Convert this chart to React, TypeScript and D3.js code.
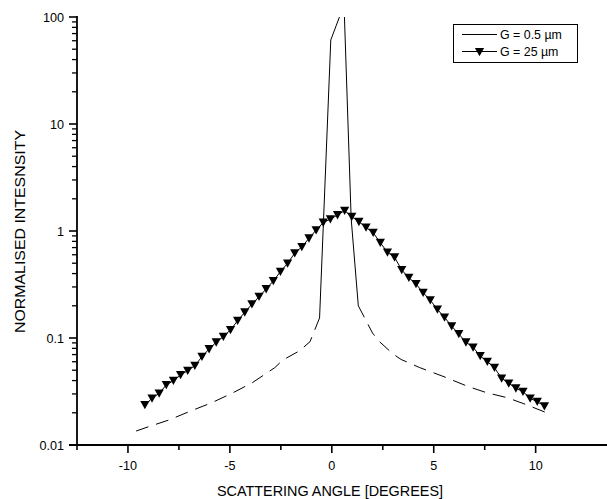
import React from "react";
import * as d3 from "d3";

const W = 607;
const H = 499;

// G = 0.5 µm series (angle in degrees, normalised intensity)
const fineX = [-9.6, -9.0, -8.0, -7.0, -5.9, -4.9, -3.9, -2.8, -2.4, -1.6, -1.07, -0.6, -0.05, 0.6, 0.95, 1.3, 2.0, 2.35, 3.0, 3.4, 4.3, 5.5, 6.7, 7.6, 8.6, 9.5, 10.6];
const fineY = [0.0135, 0.0148, 0.0171, 0.0205, 0.0248, 0.0304, 0.0382, 0.0528, 0.0623, 0.0756, 0.0923, 0.154, 61, 130, 1.3, 0.2, 0.111, 0.092, 0.071, 0.063, 0.053, 0.0435, 0.0351, 0.0308, 0.0277, 0.024, 0.0198];
// central (steep) part drawn as continuous stroke
const fineSolidFrom = -0.6;
const fineSolidTo = 1.3;

// G = 25 µm series
const coarseX = [
  -9.17, -8.82, -8.47, -8.12, -7.77, -7.42, -7.07, -6.72, -6.37, -6.02, -5.67, -5.32, -4.97, -4.62, -4.27,
  -3.92, -3.57, -3.22, -2.87, -2.52, -2.17, -1.82, -1.47, -1.12, -0.77, -0.42, -0.07, 0.28, 0.63,
  0.98, 1.33, 1.68, 2.03, 2.38, 2.73, 3.08, 3.43, 3.78, 4.13, 4.48, 4.83, 5.18, 5.53, 5.88, 6.23,
  6.58, 6.93, 7.28, 7.63, 7.98, 8.33, 8.68, 9.03, 9.38, 9.73, 10.08, 10.43,
];
const coarseY = [
  0.0237, 0.0273, 0.0304, 0.0364, 0.0399, 0.0451, 0.0495, 0.0551, 0.0669, 0.0789, 0.0912, 0.103, 0.119, 0.145, 0.174,
  0.207, 0.243, 0.287, 0.341, 0.417, 0.499, 0.62, 0.71, 0.855, 1.02, 1.2, 1.29, 1.41, 1.55,
  1.36, 1.22, 1.08, 0.964, 0.778, 0.632, 0.568, 0.432, 0.366, 0.32, 0.265, 0.226, 0.185, 0.156, 0.129, 0.109,
  0.0912, 0.0818, 0.0679, 0.0601, 0.0528, 0.042, 0.0377, 0.0339, 0.0315, 0.0273, 0.0254, 0.0231,
];

const xMajorTicks = [-10, -5, 0, 5, 10];
const xMinorTicks = [-12.5, -7.5, -2.5, 2.5, 7.5];
const yMajorTicks = [0.01, 0.1, 1, 10, 100];
const yTickLabels = ["0.01", "0.1", "1", "10", "100"];

const seriesNames = ["G = 0.5 \u00b5m", "G = 25 \u00b5m"];
const xTitle = "SCATTERING ANGLE [DEGREES]";
const yTitle = "NORMALISED INTESNSITY";

const FONT = "'Liberation Sans', Arial, Helvetica, sans-serif";

export default function App() {
  const left = 77;
  const top = 17;
  const bottom = 445;
  const x = d3.scaleLinear().domain([-12.5, 13.5]).range([left, W]);
  const y = d3.scaleLog().domain([0.01, 100]).range([bottom, top]);

  const fine = fineX.map((v, i) => [v, fineY[i]] as [number, number]);
  const coarse = coarseX.map((v, i) => [v, coarseY[i]] as [number, number]);
  const line = d3
    .line<[number, number]>()
    .x((d) => x(d[0]))
    .y((d) => y(d[1]));

  const fineLeft = fine.filter((d) => d[0] <= fineSolidFrom);
  const fineMid = fine.filter((d) => d[0] >= fineSolidFrom && d[0] <= fineSolidTo);
  const fineRight = fine.filter((d) => d[0] >= fineSolidTo);

  const yMinor: number[] = [];
  for (let e = -2; e < 2; e++) {
    for (let m = 2; m <= 9; m++) yMinor.push(m * Math.pow(10, e));
  }

  const tri = (cx: number, cy: number, s = 4.6) =>
    `M${cx - s},${cy - s * 0.85}L${cx + s},${cy - s * 0.85}L${cx},${cy + s * 0.95}Z`;

  const legX = 453.5;
  const legY = 24.5;

  return (
    <svg
      width={W}
      height={H}
      style={{ position: "absolute", left: 0, top: 0, background: "#fff" }}
      fontFamily={FONT}
    >
      <defs>
        <clipPath id="plotClip">
          <rect x={left} y={top} width={W - left} height={bottom - top} />
        </clipPath>
      </defs>

      <g clipPath="url(#plotClip)">
        <path d={line(fineLeft) || ""} fill="none" stroke="#000" strokeWidth={1} strokeDasharray="13,8" />
        <path d={line(fineMid) || ""} fill="none" stroke="#000" strokeWidth={1} />
        <path d={line(fineRight) || ""} fill="none" stroke="#000" strokeWidth={1} strokeDasharray="13,8" />
        <path d={line(coarse) || ""} fill="none" stroke="#000" strokeWidth={1} />
        {coarse.map((d, i) => (
          <path key={i} d={tri(x(d[0]), y(d[1]))} fill="#000" />
        ))}
      </g>

      {/* axes */}
      <line x1={left} x2={left} y1={top - 1} y2={bottom} stroke="#000" strokeWidth={1.8} />
      <line x1={left - 8} x2={W} y1={bottom} y2={bottom} stroke="#000" strokeWidth={1.8} />

      {xMajorTicks.map((t) => (
        <g key={"xm" + t}>
          <line x1={x(t)} x2={x(t)} y1={bottom} y2={bottom + 8} stroke="#000" strokeWidth={1.6} />
          <text x={x(t)} y={470} fontSize={12.6} textAnchor="middle" fill="#000">
            {String(t)}
          </text>
        </g>
      ))}
      {xMinorTicks.map((t) => (
        <line key={"xn" + t} x1={x(t)} x2={x(t)} y1={bottom} y2={bottom + 5} stroke="#000" strokeWidth={1.6} />
      ))}

      {yMajorTicks.map((t, i) => (
        <g key={"ym" + t}>
          <line x1={left - 8} x2={left} y1={y(t)} y2={y(t)} stroke="#000" strokeWidth={1.6} />
          <text x={64} y={y(t) + 5} fontSize={12.6} textAnchor="end" fill="#000">
            {yTickLabels[i]}
          </text>
        </g>
      ))}
      {yMinor.map((t) => (
        <line key={"yn" + t} x1={left - 5} x2={left} y1={y(t)} y2={y(t)} stroke="#000" strokeWidth={1.3} />
      ))}

      <text
        x={330}
        y={496}
        fontSize={14.5}
        textAnchor="middle"
        fill="#000"
        textLength={226}
        lengthAdjust="spacingAndGlyphs"
      >
        {xTitle}
      </text>
      <text
        transform={`translate(25,231.5) rotate(-90)`}
        fontSize={14.2}
        textAnchor="middle"
        fill="#000"
        textLength={203}
        lengthAdjust="spacingAndGlyphs"
      >
        {yTitle}
      </text>

      {/* legend */}
      <rect x={legX} y={legY} width={124} height={38} fill="#fff" stroke="#000" strokeWidth={1} />
      <line x1={462} x2={497} y1={34.5} y2={34.5} stroke="#000" strokeWidth={1} />
      <text x={500} y={39} fontSize={12.4} fill="#000">
        {seriesNames[0]}
      </text>
      <line x1={462} x2={497} y1={51.5} y2={51.5} stroke="#000" strokeWidth={1} />
      <path d={tri(479.5, 52)} fill="#000" />
      <text x={500} y={56} fontSize={12.4} fill="#000">
        {seriesNames[1]}
      </text>
    </svg>
  );
}
